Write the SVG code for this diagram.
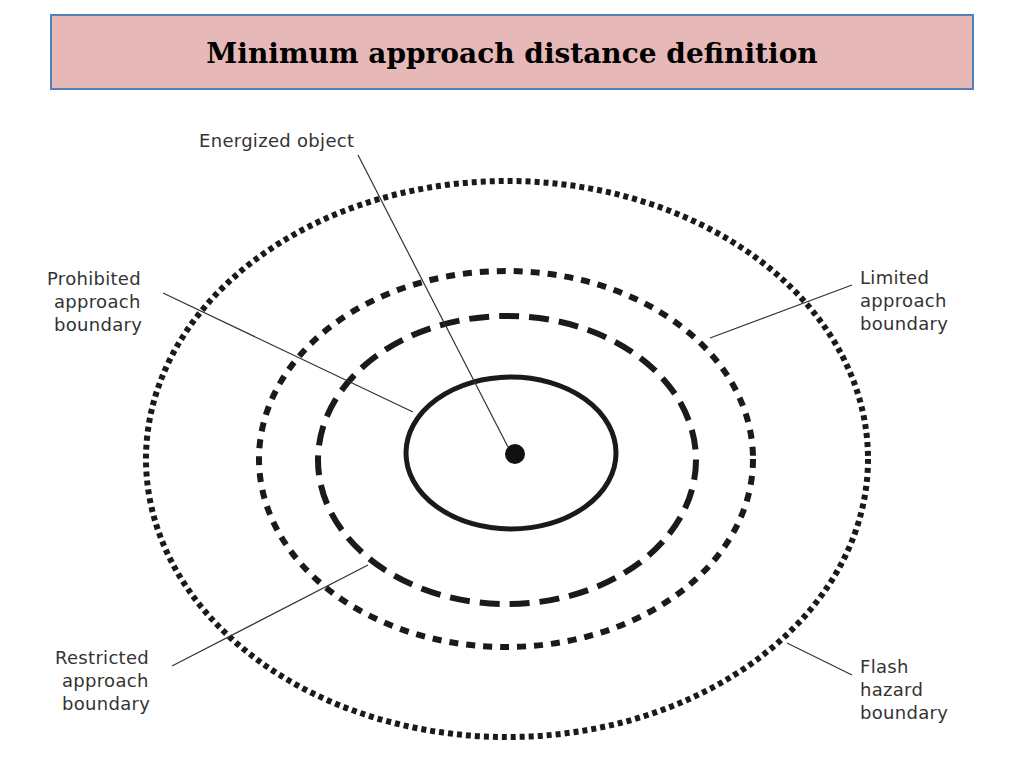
<svg xmlns="http://www.w3.org/2000/svg" width="1024" height="768" viewBox="0 0 1024 768">
<style>
.lbl{font-family:"DejaVu Sans","Liberation Sans",sans-serif;font-size:18px;letter-spacing:0.3px;fill:#333}
.ring{fill:none;stroke:#1a1a1a}
.lead{stroke:#333;stroke-width:1.2;fill:none}
</style>
<rect width="1024" height="768" fill="#fff"/>
<g id="title">
<rect x="51" y="15" width="922" height="74" fill="#e6b9b8" stroke="#4f81bd" stroke-width="2"/>
<text x="512" y="63" text-anchor="middle" font-family="'DejaVu Serif',serif" font-weight="bold" font-size="28" fill="#000">Minimum approach distance definition</text>
</g>
<g id="flash"><ellipse class="ring" cx="507" cy="459" rx="361" ry="278" stroke-width="6" stroke-dasharray="5 4"/></g>
<g id="limited"><ellipse class="ring" cx="506" cy="459" rx="247" ry="188" stroke-width="6" stroke-dasharray="9 8"/></g>
<g id="restricted"><ellipse class="ring" cx="507" cy="460" rx="189" ry="144" stroke-width="6" stroke-dasharray="20 10"/></g>
<g id="prohibited"><ellipse class="ring" cx="511" cy="453" rx="105" ry="76" stroke-width="5"/></g>
<g id="object"><circle cx="515" cy="454" r="10" fill="#111"/></g>
<g id="connectors">
<line class="lead" x1="358" y1="155" x2="508" y2="447"/>
<line class="lead" x1="163" y1="293" x2="413" y2="412"/>
<line class="lead" x1="852" y1="285" x2="710" y2="338"/>
<line class="lead" x1="172" y1="666" x2="368" y2="565"/>
<line class="lead" x1="852" y1="675" x2="787" y2="643"/>
</g>
<g id="labels">
<text class="lbl" x="199" y="147">Energized object</text>
<text class="lbl" x="47" y="285">Prohibited</text>
<text class="lbl" x="54" y="308">approach</text>
<text class="lbl" x="54" y="331">boundary</text>
<text class="lbl" x="860" y="284">Limited</text>
<text class="lbl" x="860" y="307">approach</text>
<text class="lbl" x="860" y="330">boundary</text>
<text class="lbl" x="55" y="664">Restricted</text>
<text class="lbl" x="62" y="687">approach</text>
<text class="lbl" x="62" y="710">boundary</text>
<text class="lbl" x="860" y="673">Flash</text>
<text class="lbl" x="860" y="696">hazard</text>
<text class="lbl" x="860" y="719">boundary</text>
</g>
</svg>
